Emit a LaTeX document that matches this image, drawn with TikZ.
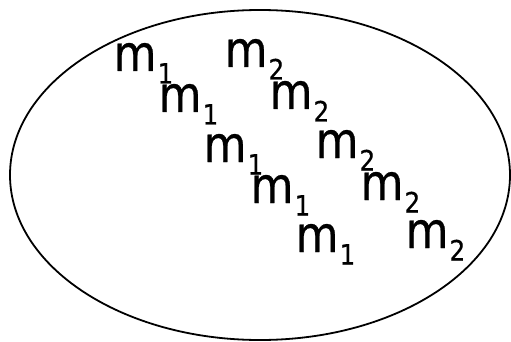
\documentclass[tikz,border=0pt]{standalone}
\usepackage{fontspec}
\setmainfont[FakeStretch=0.88,FakeBold=0.6]{DejaVu Sans}
\newcommand{\msub}[1]{m\kern1pt\raisebox{-12.5pt}{\fontsize{28}{28}\selectfont #1}}
\begin{document}
\begin{tikzpicture}[x=1pt,y=-1pt,
  lab/.style={anchor=base west,inner sep=0pt,font=\fontsize{50}{50}\selectfont}]
\useasboundingbox (0,0) rectangle (511,342);
\coordinate (E) at (260,175);
\draw[line width=1.8pt] (E) ellipse [x radius=250, y radius=165];
\node[lab] (a1) at (113.5,71) {\msub{1}};
\node[lab] (a2) at (158.5,112) {\msub{1}};
\node[lab] (a3) at (203.5,162) {\msub{1}};
\node[lab] (a4) at (250.5,203) {\msub{1}};
\node[lab] (a5) at (295.5,252) {\msub{1}};
\node[lab] (b1) at (224.5,67) {\msub{2}};
\node[lab] (b2) at (269.5,109) {\msub{2}};
\node[lab] (b3) at (315.5,158) {\msub{2}};
\node[lab] (b4) at (360.5,200) {\msub{2}};
\node[lab] (b5) at (405.5,248) {\msub{2}};
\end{tikzpicture}
\end{document}
